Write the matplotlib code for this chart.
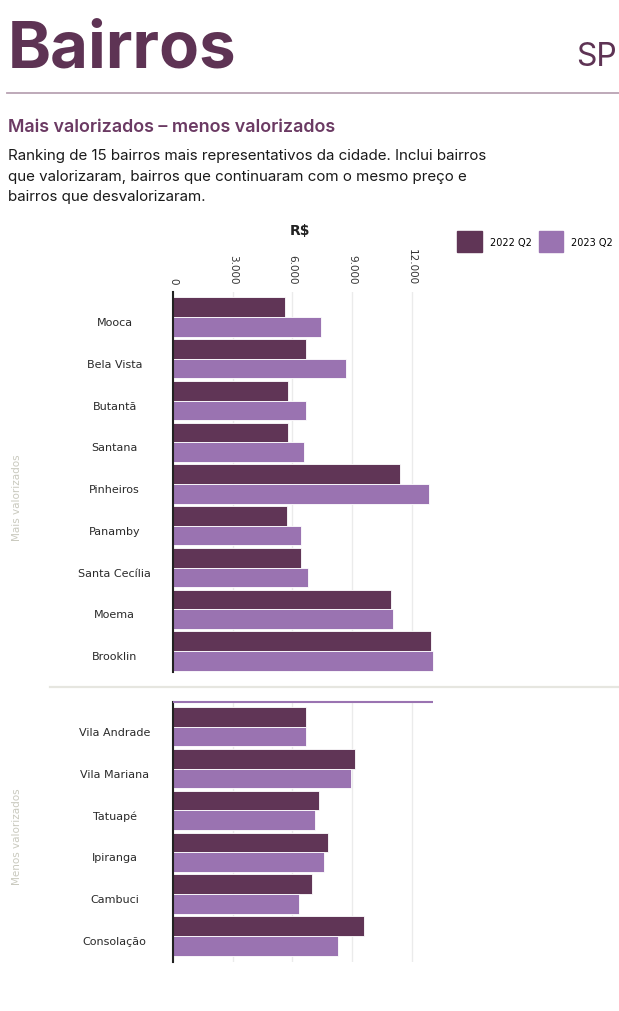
import matplotlib.pyplot as plt
import numpy as np
from matplotlib.patches import Patch
from matplotlib.transforms import ScaledTranslation

# Data (R$ per m2)
mais = ['Mooca', 'Bela Vista', 'Butantã', 'Santana', 'Pinheiros', 'Panamby',
        'Santa Cecília', 'Moema', 'Brooklin']
mais_2022 = [5650, 6700, 5800, 5800, 11400, 5750, 6450, 10950, 12950]
mais_2023 = [7450, 8700, 6700, 6600, 12850, 6450, 6800, 11050, 13050]

menos = ['Vila Andrade', 'Vila Mariana', 'Tatuapé', 'Ipiranga', 'Cambuci', 'Consolação']
menos_2022 = [6700, 9150, 7350, 7800, 7000, 9600]
menos_2023 = [6700, 8950, 7150, 7600, 6350, 8300]

ticks = [0, 3000, 6000, 9000, 12000]
tick_labels = ['0', '3.000', '6.000', '9.000', '12.000']
series = ['2022 Q2', '2023 Q2']

dark = '#603556'
light = '#9a73b1'
title_col = '#5e3354'

W, H = 619, 1012
fig = plt.figure(figsize=(W / 100, H / 100), dpi=100)

# Header
fig.text(8 / W, 1 - 50 / H, 'Bairros', fontsize=47, fontweight='bold', color=title_col,
         family='Inter', va='center', ha='left')
fig.text(617 / W, 1 - 57 / H, 'SP', fontsize=23, fontweight='normal', color=title_col,
         family='Inter', va='center', ha='right')
fig.add_artist(plt.Line2D([7 / W, 1], [1 - 94 / H, 1 - 94 / H], color='#b9a3b3', lw=1.3))
fig.text(8 / W, 1 - 128 / H, 'Mais valorizados – menos valorizados', fontsize=12.9,
         fontweight='semibold', color='#6b3a63', family='Inter', va='center')
desc = ('Ranking de 15 bairros mais representativos da cidade. Inclui bairros\n'
        'que valorizaram, bairros que continuaram com o mesmo preço e\n'
        'bairros que desvalorizaram.')
fig.text(8 / W, 1 - 149 / H, desc, fontsize=10.9, color='#1a1a1a', family='Inter',
         va='top', linespacing=1.6)

xmax = 13500
left = 173 / W
width = (xmax / 1000 * 19.9) / W


def draw(ax, names, v22, v23, top_ticks):
    y = np.arange(len(names))
    h = 0.47
    ax.barh(y - h / 2, v22, height=h, color=dark, edgecolor='white', linewidth=0.6, zorder=3)
    ax.barh(y + h / 2, v23, height=h, color=light, edgecolor='white', linewidth=0.6, zorder=3)
    ax.set_yticks(y)
    ax.set_yticklabels(names, ha='center', fontsize=8, color='#2a2a2a', va='center_baseline')
    ax.tick_params(axis='y', length=0, pad=42)
    shift = ScaledTranslation(0, -4 / 100, fig.dpi_scale_trans)
    for lab in ax.get_yticklabels():
        lab.set_transform(lab.get_transform() + shift)
    ax.set_xlim(0, xmax)
    ax.set_xticks(ticks)
    ax.grid(axis='x', color='#ebebeb', lw=1, zorder=0)
    for s in ['top', 'right', 'bottom']:
        ax.spines[s].set_visible(False)
    ax.spines['left'].set_color('#222222')
    ax.spines['left'].set_linewidth(1.5)
    ax.spines['left'].set_zorder(4)
    if top_ticks:
        ax.xaxis.tick_top()
        ax.set_xticklabels(tick_labels, rotation=270, fontsize=7.5, color='#333333')
        ax.tick_params(axis='x', length=0, pad=6)
    else:
        ax.tick_params(axis='x', length=0, labelbottom=False)


ax1 = fig.add_axes([left, 1 - 673 / H, width, 380 / H])
draw(ax1, mais, mais_2022, mais_2023, True)
ax1.set_ylim(8.5, -0.6)

ax2 = fig.add_axes([left, 1 - 963 / H, width, 260 / H])
draw(ax2, menos, menos_2022, menos_2023, False)
ax2.set_ylim(5.62, -0.59)
ax2.hlines(-0.59, 0, max(mais_2023), color=light, lw=1.5, zorder=5, clip_on=False)

# Separator and group labels
fig.add_artist(plt.Line2D([50 / W, 1], [1 - 688 / H, 1 - 688 / H], color='#e6e6e0', lw=1.6))
fig.text(17 / W, 1 - 498 / H, 'Mais valorizados', rotation=90, fontsize=7.5,
         color='#c9c9be', va='center', ha='center')
fig.text(17 / W, 1 - 837 / H, 'Menos valorizados', rotation=90, fontsize=7.5,
         color='#c9c9be', va='center', ha='center')

fig.text(300 / W, 1 - 231 / H, 'R$', fontsize=10, fontweight='bold', color='#222222',
         ha='center', va='center')

handles = [Patch(color=dark, label=series[0]), Patch(color=light, label=series[1])]
fig.legend(handles=handles, loc='upper right', bbox_to_anchor=(613 / W, 1 - 232 / H),
           ncol=2, frameon=False, fontsize=7, handlelength=2.5, handleheight=3.0,
           handletextpad=0.8, columnspacing=0.8, borderaxespad=0, borderpad=0)

fig.savefig('out.png', dpi=100)
